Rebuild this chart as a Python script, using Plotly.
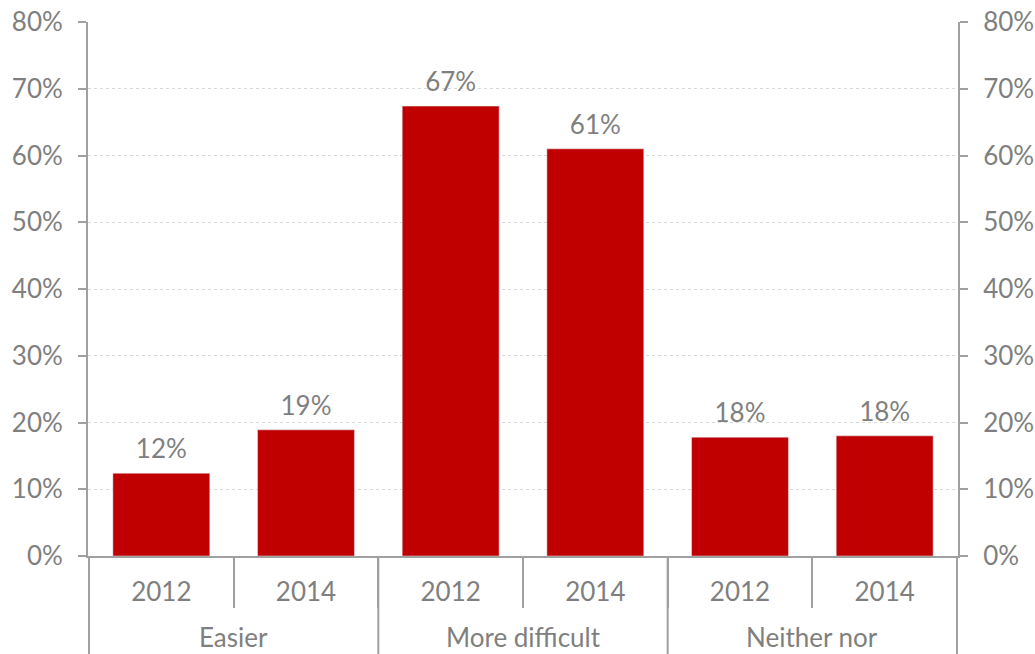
import plotly.graph_objects as go

groups = ["Easier", "Easier", "More difficult", "More difficult", "Neither nor", "Neither nor"]
years = ["2012", "2014", "2012", "2014", "2012", "2014"]
shares = [0.124, 0.189, 0.674, 0.610, 0.178, 0.180]

cats = [f"{g} {y}" for g, y in zip(groups, years)]

grey = "#7f7f7f"
axis_grey = "#a0a0a0"
fsize = 26

fig = go.Figure()
fig.add_trace(go.Bar(
    x=cats, y=shares, marker_color="#c00000",
    hoverinfo="y", showlegend=False,
))
# value labels + keeps the right-hand axis alive
fig.add_trace(go.Scatter(
    x=cats, y=shares, yaxis="y2",
    mode="markers+text", marker=dict(size=12, opacity=0),
    text=[f"{v:.0%}" for v in shares], textposition="top center",
    textfont=dict(color=grey, size=fsize),
    cliponaxis=False, hoverinfo="skip", showlegend=False,
))

yax = dict(
    range=[0, 0.8], dtick=0.1, tickformat=".0%",
    showline=True, linecolor=axis_grey, linewidth=2,
    ticks="outside", ticklen=8, tickcolor=axis_grey, tickwidth=2,
    gridcolor="#d9d9d9", griddash="dot", gridwidth=1,
    tickfont=dict(color=grey, size=fsize), zeroline=False,
    automargin=False, ticklabelstandoff=10,
)

# group labels and the long dividers under the axis
unique_groups = list(dict.fromkeys(groups))
shapes = []
annotations = []
bounds = [-0.5]
for g in unique_groups:
    idx = [i for i, gg in enumerate(groups) if gg == g]
    annotations.append(dict(
        x=sum(idx) / len(idx), xref="x", y=-0.151, yref="paper",
        text=g, showarrow=False, yanchor="middle",
        font=dict(color=grey, size=fsize),
    ))
    bounds.append(idx[-1] + 0.5)
for b in bounds:
    shapes.append(dict(
        type="line", xref="x", yref="paper", x0=b, x1=b, y0=0, y1=-0.19,
        line=dict(color=axis_grey, width=2),
    ))

fig.update_layout(
    width=1035, height=654,
    margin=dict(l=88, r=77, t=22, b=98),
    paper_bgcolor="white", plot_bgcolor="white",
    font=dict(family="Lato", color=grey, size=fsize),
    bargap=0.33,
    xaxis=dict(
        type="category",
        showline=True, linecolor=axis_grey, linewidth=2,
        ticks="outside", tickson="boundaries", ticklen=50,
        tickcolor=axis_grey, tickwidth=2,
        tickvals=cats, ticktext=years,
        tickfont=dict(color=grey, size=fsize),
        automargin=False, ticklabelstandoff=12,
    ),
    yaxis=yax,
    yaxis2=dict(yax, overlaying="y", side="right", showgrid=False),
    shapes=shapes,
    annotations=annotations,
)

fig.write_html(
    "out.html",
    config={"displayModeBar": False},
    post_script="document.body.style.margin='0';document.body.style.overflow='hidden';",
)
